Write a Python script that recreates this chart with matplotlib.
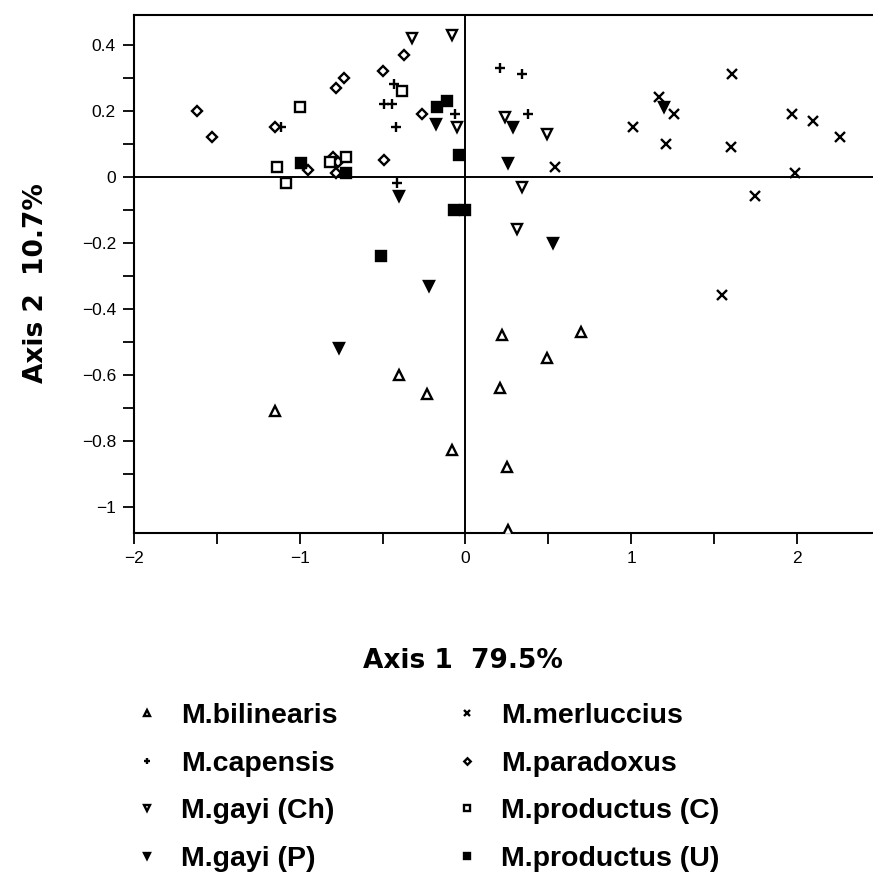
import matplotlib
matplotlib.use("Agg")
import matplotlib.pyplot as plt
from matplotlib.ticker import MultipleLocator, FuncFormatter

plt.rcParams['font.family'] = ['Liberation Sans', 'DejaVu Sans']

# species scores on the first two axes
bil_x = [0.22, 0.70, 0.49, -1.15, -0.40, -0.23, -0.08, 0.21, 0.25, 0.26]
bil_y = [-0.48, -0.47, -0.55, -0.71, -0.60, -0.66, -0.83, -0.64, -0.88, -1.07]

cap_x = [-1.11, -0.43, -0.49, -0.44, -0.42, -0.06, -0.41, 0.21, 0.34, 0.38]
cap_y = [0.15, 0.28, 0.22, 0.22, 0.15, 0.19, -0.02, 0.33, 0.31, 0.19]

gch_x = [-0.32, -0.08, -0.05, 0.24, 0.49, 0.34, 0.31]
gch_y = [0.42, 0.43, 0.15, 0.18, 0.13, -0.03, -0.16]

gp_x = [-0.18, 0.29, 0.26, 1.20, 0.53, -0.40, -0.22, -0.76]
gp_y = [0.16, 0.15, 0.04, 0.21, -0.20, -0.06, -0.33, -0.52]

mer_x = [0.54, 1.01, 1.17, 1.26, 1.21, 1.61, 1.60, 1.97, 2.10, 2.26, 1.99, 1.75, 1.55]
mer_y = [0.03, 0.15, 0.24, 0.19, 0.10, 0.31, 0.09, 0.19, 0.17, 0.12, 0.01, -0.06, -0.36]

par_x = [-1.62, -1.53, -1.15, -0.78, -0.73, -0.50, -0.37, -0.26, -0.49, -0.80, -0.77, -0.95, -0.78]
par_y = [0.20, 0.12, 0.15, 0.27, 0.30, 0.32, 0.37, 0.19, 0.05, 0.06, 0.045, 0.02, 0.01]

prc_x = [-1.00, -0.38, -1.14, -1.08, -0.82, -0.72]
prc_y = [0.21, 0.26, 0.03, -0.02, 0.045, 0.06]

pru_x = [-0.99, -0.72, -0.17, -0.11, -0.04, -0.07, 0.00, -0.51]
pru_y = [0.04, 0.01, 0.21, 0.23, 0.065, -0.10, -0.10, -0.24]

fig = plt.figure(figsize=(8.73, 8.77), dpi=100)
ax = fig.add_axes([0.1535, 0.3923, 0.8465, 0.5906])

# (x, y, marker, filled, size, label)
series = [
    (bil_x, bil_y, '^', False, 7, 'M.bilinearis'),
    (cap_x, cap_y, '+', True, 7.5, 'M.capensis'),
    (gch_x, gch_y, 'v', False, 7.5, 'M.gayi (Ch)'),
    (gp_x, gp_y, 'v', True, 7.5, 'M.gayi (P)'),
    (mer_x, mer_y, 'x', True, 6.5, 'M.merluccius'),
    (par_x, par_y, 'D', False, 5.5, 'M.paradoxus'),
    (prc_x, prc_y, 's', False, 6.5, 'M.productus (C)'),
    (pru_x, pru_y, 's', True, 6.5, 'M.productus (U)'),
]

handles = []
for xs, ys, m, filled, ms, lab in series:
    h, = ax.plot(xs, ys, linestyle='none', marker=m, markersize=ms,
                 markeredgewidth=1.7, markeredgecolor='black',
                 markerfacecolor='black' if filled else 'white',
                 label=lab, zorder=3)
    handles.append(h)

ax.axhline(0, color='black', lw=1.4, zorder=1)
ax.axvline(0, color='black', lw=1.4, zorder=1)

ax.set_xlim(-2, 2.46)
ax.set_ylim(-1.08, 0.49)
ax.spines['right'].set_visible(False)
for s in ['left', 'top', 'bottom']:
    ax.spines[s].set_linewidth(1.5)

ax.xaxis.set_major_locator(MultipleLocator(1))
ax.xaxis.set_minor_locator(MultipleLocator(0.5))
ax.yaxis.set_major_locator(MultipleLocator(0.2))
ax.yaxis.set_minor_locator(MultipleLocator(0.1))
fmt = FuncFormatter(lambda v, p: ('%g' % round(v, 2)).replace('-', '\u2212'))
ax.xaxis.set_major_formatter(fmt)
ax.yaxis.set_major_formatter(fmt)
ax.tick_params(which='both', direction='out', length=8, width=1.3, labelsize=12.5, pad=5)

lab_font = {'family': 'DejaVu Sans', 'weight': 'bold', 'size': 19}
ax.set_xlabel('Axis 1  79.5%', fontdict=lab_font)
ax.xaxis.set_label_coords(0.445, -0.247)
ax.xaxis.label.set_va('center')
ax.set_ylabel('Axis 2  10.7%', fontdict=lab_font)
ax.yaxis.set_label_coords(-0.132, 0.483)
ax.yaxis.label.set_va('center')

leg = fig.legend(handles=handles, loc='upper left', bbox_to_anchor=(0.123, 0.2275),
                 ncol=2, frameon=False, markerscale=0.6, handlelength=1.0,
                 handletextpad=0.7, columnspacing=4.04, labelspacing=0.76,
                 prop={'weight': 'bold', 'size': 20.5})

fig.savefig('out.png', dpi=100)
